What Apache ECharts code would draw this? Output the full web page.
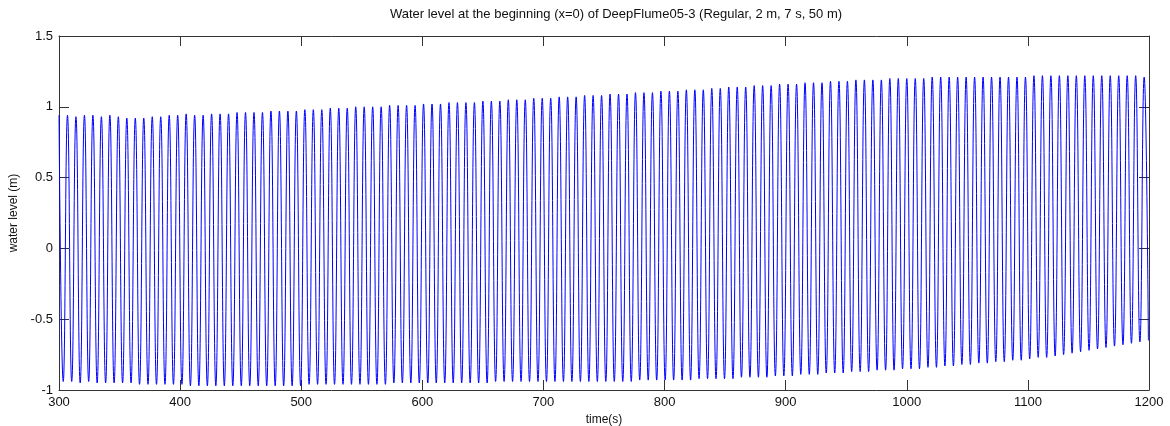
<!DOCTYPE html>
<html>
<head>
<meta charset="utf-8">
<script src="https://cdn.jsdelivr.net/npm/echarts@6/dist/echarts.min.js"></script>
<style>html,body{margin:0;padding:0;background:#fff}#c{width:1170px;height:426px}</style>
</head>
<body>
<div id="c"></div>
<script>
const titleText = "Water level at the beginning (x=0) of DeepFlume05-3 (Regular, 2 m, 7 s, 50 m)";
const xName = "time(s)";
const yName = "water level (m)";
const xTicks = [300, 400, 500, 600, 700, 800, 900, 1000, 1100, 1200];
const yTicks = [-1, -0.5, 0, 0.5, 1, 1.5];
// wave period (s) and time of first crest
const wavePeriod = 7;
const firstCrestTime = 300;
// crest height of each wave (one per period)
const crestValues = [
  0.94,0.94,0.93,0.94,0.94,0.93,0.94,
  0.93,0.92,0.92,0.92,0.93,0.93,0.94,
  0.94,0.95,0.94,0.94,0.95,0.95,0.95,
  0.96,0.96,0.96,0.96,0.97,0.97,0.97,
  0.97,0.98,0.98,0.98,0.99,0.99,0.99,
  1.00,1.00,1.00,1.00,1.01,1.01,1.01,
  1.01,1.02,1.02,1.02,1.03,1.03,1.03,
  1.03,1.04,1.04,1.04,1.05,1.05,1.05,
  1.06,1.06,1.06,1.07,1.07,1.07,1.08,
  1.08,1.08,1.09,1.09,1.09,1.10,1.10,
  1.10,1.11,1.11,1.11,1.12,1.12,1.12,
  1.13,1.13,1.14,1.14,1.14,1.15,1.15,
  1.15,1.16,1.16,1.16,1.17,1.17,1.17,
  1.18,1.18,1.18,1.19,1.19,1.19,1.19,
  1.20,1.20,1.20,1.20,1.20,1.21,1.21,
  1.21,1.21,1.21,1.21,1.21,1.21,1.21,
  1.21,1.21,1.21,1.22,1.22,1.22,1.22,
  1.22,1.22,1.22,1.22,1.22,1.22,1.22,
  1.22,1.22,1.21
];
// trough depth of each wave (one per period)
const troughValues = [
  -0.94,-0.94,-0.95,-0.94,-0.95,-0.95,-0.95,
  -0.95,-0.95,-0.96,-0.96,-0.96,-0.96,-0.96,
  -0.96,-0.97,-0.97,-0.97,-0.97,-0.97,-0.97,
  -0.97,-0.97,-0.97,-0.97,-0.97,-0.97,-0.97,
  -0.97,-0.96,-0.96,-0.96,-0.96,-0.96,-0.96,
  -0.96,-0.96,-0.96,-0.96,-0.95,-0.95,-0.95,
  -0.95,-0.95,-0.95,-0.95,-0.95,-0.95,-0.95,
  -0.95,-0.95,-0.94,-0.94,-0.94,-0.94,-0.94,
  -0.94,-0.94,-0.94,-0.94,-0.94,-0.94,-0.94,
  -0.94,-0.94,-0.94,-0.94,-0.94,-0.93,-0.93,
  -0.93,-0.93,-0.93,-0.93,-0.93,-0.92,-0.92,
  -0.92,-0.92,-0.92,-0.91,-0.91,-0.91,-0.91,
  -0.90,-0.90,-0.90,-0.89,-0.89,-0.89,-0.88,
  -0.88,-0.88,-0.87,-0.87,-0.87,-0.86,-0.86,
  -0.86,-0.85,-0.85,-0.85,-0.84,-0.84,-0.83,
  -0.83,-0.82,-0.82,-0.81,-0.81,-0.80,-0.80,
  -0.79,-0.79,-0.78,-0.77,-0.77,-0.76,-0.75,
  -0.74,-0.73,-0.72,-0.71,-0.70,-0.69,-0.68,
  -0.67,-0.66,-0.65
];

const seriesData = [];
for (let j = 0; j < crestValues.length; j++) {
  const tc = firstCrestTime + j * wavePeriod;
  seriesData.push([tc, crestValues[j]]);
  if (j < troughValues.length) seriesData.push([tc + wavePeriod / 2, troughValues[j]]);
}

const axisColor = '#333';
const fontFam = '"Liberation Sans", Arial, sans-serif';
const plainNum = v => String(v);
const chart = echarts.init(document.getElementById('c'), null, {renderer: 'canvas'});
const baseX = {
  type: 'value', min: xTicks[0], max: xTicks[xTicks.length - 1], interval: 100,
  axisLine: {show: true, onZero: false, lineStyle: {color: axisColor, width: 1}},
  axisTick: {show: true, inside: true, length: 10, lineStyle: {color: axisColor}},
  splitLine: {show: false}
};
const baseY = {
  type: 'value', min: yTicks[0], max: yTicks[yTicks.length - 1], interval: 0.5,
  axisLine: {show: true, onZero: false, lineStyle: {color: axisColor, width: 1}},
  axisTick: {show: true, inside: true, length: 10, lineStyle: {color: axisColor}},
  splitLine: {show: false}
};
chart.setOption({
  animation: false,
  backgroundColor: '#fff',
  title: {
    text: titleText, left: 611, top: 3, textAlign: 'center',
    textStyle: {fontSize: 13, fontWeight: 'normal', color: '#111', fontFamily: fontFam}
  },
  grid: {left: 59, right: 21, top: 36, bottom: 36, containLabel: false, outerBoundsMode: 'none'},
  xAxis: [
    Object.assign({}, baseX, {
      position: 'bottom', name: xName, nameLocation: 'middle', nameGap: 22,
      nameTextStyle: {fontSize: 12, color: '#111', fontFamily: fontFam},
      axisLabel: {show: true, margin: 6, fontSize: 13, color: '#111', fontFamily: fontFam, formatter: plainNum}
    }),
    Object.assign({}, baseX, {position: 'top', axisLabel: {show: false}})
  ],
  yAxis: [
    Object.assign({}, baseY, {
      position: 'left', name: yName, nameLocation: 'middle', nameGap: 33,
      nameTextStyle: {fontSize: 12, color: '#111', fontFamily: fontFam},
      axisLabel: {show: true, margin: 6, fontSize: 13, color: '#111', fontFamily: fontFam, formatter: plainNum}
    }),
    Object.assign({}, baseY, {position: 'right', axisLabel: {show: false}})
  ],
  series: [{
    type: 'line', xAxisIndex: 0, yAxisIndex: 0, data: seriesData,
    showSymbol: false, smooth: 0.5, lineStyle: {color: '#0000ff', width: 1},
    clip: true
  }]
});
</script>
</body>
</html>
